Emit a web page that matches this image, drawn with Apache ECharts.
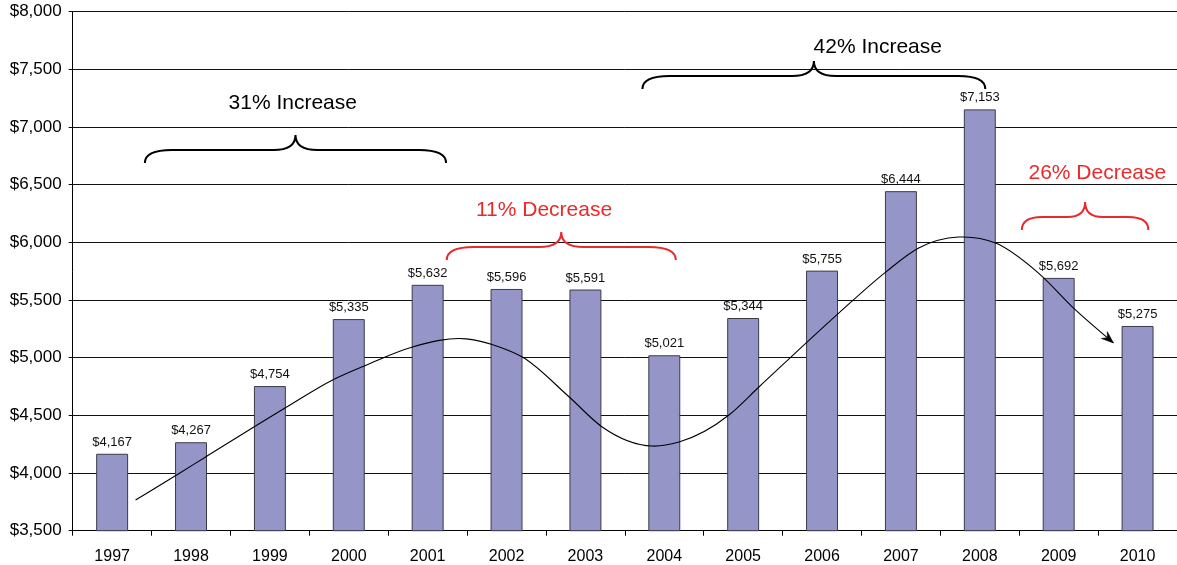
<!DOCTYPE html>
<html>
<head>
<meta charset="utf-8">
<title>Annual spending 1997–2010</title>
<script src="https://cdn.jsdelivr.net/npm/echarts@6/dist/echarts.min.js"></script>
<style>
  html, body { margin: 0; padding: 0; background: #fff; }
  #chart { width: 1177px; height: 565px; }
</style>
</head>
<body>
<div id="chart"></div>
<script>
// Yearly amounts shown as bars
const years = ['1997', '1998', '1999', '2000', '2001', '2002', '2003', '2004', '2005', '2006', '2007', '2008', '2009', '2010'];
const amounts = [4167, 4267, 4754, 5335, 5632, 5596, 5591, 5021, 5344, 5755, 6444, 7153, 5692, 5275];

// Hand-drawn trend curve (x in category units, 0 = 1997)
const trendX = [0.297, 0.833, 1.175, 2.213, 2.795, 3.225, 3.808, 4.491, 4.909, 5.2, 5.795, 6.213, 6.846, 7.187, 7.82, 8.2, 9.212, 9.807, 10.225, 10.731, 11.2, 11.744, 12.213, 12.694];
const trendY = [3766, 3990, 4135, 4572, 4807, 4937, 5093, 5163, 5093, 5006, 4659, 4399, 4234, 4269, 4503, 4746, 5387, 5742, 5951, 6046, 5994, 5734, 5414, 5128];

// Brace annotations: span on the category scale, base level, caption and caption anchor
const braceFrom = [0.415, 4.242, 6.723, 11.533];
const braceTo = [4.234, 7.146, 11.07, 13.137];
const braceBase = [6688, 5847, 7330, 6107];
const braceText = ['31% Increase', '11% Decrease', '42% Increase', '26% Decrease'];
const braceKind = ['up', 'down', 'up', 'down'];
const captionX = [2.29, 5.475, 9.706, 12.49];
const captionY = [7208, 6280, 7696, 6601];

// Y axis ticks
const yMin = 3500, yMax = 8000, yStep = 500;

const FONT = '"Liberation Sans", Arial, sans-serif';
const kindColor = { up: '#000000', down: '#ea2a2a' };

const fmtMoney = v => '$' + Number(v).toLocaleString('en-US');

const chart = echarts.init(document.getElementById('chart'), null, { renderer: 'canvas' });

const trendData = trendX.map((x, i) => [x, trendY[i]]);
const braceData = braceFrom.map((x0, i) => [x0, braceTo[i], braceBase[i], captionX[i], captionY[i]]);

// Curly brace with its caption
function renderBrace(params, api) {
  const i = params.dataIndex;
  const a = api.coord([api.value(0), api.value(2)]);
  const b = api.coord([api.value(1), api.value(2)]);
  const c = api.coord([api.value(3), api.value(4)]);
  const x0 = a[0], x1 = b[0], yb = a[1];
  const yh = yb - 13, yt = yb - 28;
  const xm = (x0 + x1) / 2;
  const span = x1 - x0;
  const w1 = Math.min(27, span * 0.16);
  const w2 = Math.min(22, span * 0.14);
  const d = 'M' + x0 + ',' + yb +
    ' Q' + x0 + ',' + yh + ' ' + (x0 + w1) + ',' + yh +
    ' L' + (xm - w2) + ',' + yh +
    ' Q' + xm + ',' + yh + ' ' + xm + ',' + yt +
    ' Q' + xm + ',' + yh + ' ' + (xm + w2) + ',' + yh +
    ' L' + (x1 - w1) + ',' + yh +
    ' Q' + x1 + ',' + yh + ' ' + x1 + ',' + yb;
  const color = kindColor[braceKind[i]];
  return {
    type: 'group',
    children: [
      {
        type: 'path',
        shape: { pathData: d },
        style: { stroke: color, fill: null, lineWidth: 2 }
      },
      {
        type: 'text',
        x: c[0],
        y: c[1],
        style: {
          text: braceText[i],
          fill: color,
          font: '21px ' + FONT,
          align: 'center',
          verticalAlign: 'middle'
        }
      }
    ]
  };
}

// Trend curve: cubic Hermite through the points (tangents from a three-point
// derivative that respects uneven spacing), ending in an arrow head
function renderTrend(params, api) {
  if (params.dataIndex !== 0) return null;
  const pts = trendData.map(p => api.coord(p));
  const n = pts.length;
  const h = [], s = [];
  for (let i = 0; i < n - 1; i++) {
    h[i] = pts[i + 1][0] - pts[i][0];
    s[i] = (pts[i + 1][1] - pts[i][1]) / h[i];
  }
  const m = [];
  m[0] = s[0];
  m[n - 1] = s[n - 2];
  for (let i = 1; i < n - 1; i++) {
    m[i] = (s[i - 1] * h[i] + s[i] * h[i - 1]) / (h[i - 1] + h[i]);
  }
  let d = 'M' + pts[0][0] + ',' + pts[0][1];
  for (let i = 0; i < n - 1; i++) {
    const k = h[i] / 3;
    d += ' C' + (pts[i][0] + k) + ',' + (pts[i][1] + m[i] * k) + ' ' +
      (pts[i + 1][0] - k) + ',' + (pts[i + 1][1] - m[i + 1] * k) + ' ' +
      pts[i + 1][0] + ',' + pts[i + 1][1];
  }
  // arrow head aligned with the final tangent
  const tip = pts[n - 1];
  let dx = 1, dy = m[n - 1];
  const len = Math.sqrt(dx * dx + dy * dy);
  dx /= len; dy /= len;
  const nx = -dy, ny = dx;
  const L = 12, W = 4.5, notch = 8;
  const head = [
    tip,
    [tip[0] - dx * L + nx * W, tip[1] - dy * L + ny * W],
    [tip[0] - dx * notch, tip[1] - dy * notch],
    [tip[0] - dx * L - nx * W, tip[1] - dy * L - ny * W]
  ];
  return {
    type: 'group',
    children: [
      {
        type: 'path',
        shape: { pathData: d },
        style: { stroke: '#000', fill: null, lineWidth: 1.1 }
      },
      {
        type: 'polygon',
        shape: { points: head },
        style: { fill: '#000', stroke: '#000', lineWidth: 0.6 }
      }
    ]
  };
}

const option = {
  animation: false,
  backgroundColor: '#ffffff',
  textStyle: { fontFamily: FONT },
  grid: { left: 72.7, right: -1.7, top: 11.7, bottom: 34.3, containLabel: false },
  xAxis: [
    {
      type: 'category',
      data: years,
      boundaryGap: true,
      axisLine: { show: true, onZero: false, lineStyle: { color: '#000', width: 1 } },
      axisTick: { show: true, alignWithLabel: false, length: 5, lineStyle: { color: '#000' } },
      axisLabel: { color: '#000', fontSize: 16, fontFamily: FONT, margin: 18 },
      splitLine: { show: false }
    },
    {
      type: 'value',
      min: -0.5,
      max: 13.5,
      show: false
    }
  ],
  yAxis: {
    type: 'value',
    min: yMin,
    max: yMax,
    interval: yStep,
    axisLine: { show: true, onZero: false, lineStyle: { color: '#000', width: 1 } },
    axisTick: { show: true, length: 4, lineStyle: { color: '#000' } },
    axisLabel: { color: '#000', fontSize: 17, fontFamily: FONT, margin: 11, formatter: fmtMoney },
    splitLine: { show: true, lineStyle: { color: '#111', width: 1 } }
  },
  series: [
    {
      name: 'Amount',
      type: 'bar',
      xAxisIndex: 0,
      data: amounts,
      barWidth: '40.5%',
      itemStyle: { color: '#9595c8', borderColor: '#3a3a4a', borderWidth: 1 },
      label: {
        show: true,
        position: 'top',
        distance: 5,
        color: '#111',
        fontSize: 13,
        fontFamily: FONT,
        formatter: p => fmtMoney(p.value)
      },
      z: 2
    },
    {
      name: 'Trend',
      type: 'custom',
      xAxisIndex: 1,
      renderItem: renderTrend,
      data: trendData,
      encode: { x: 0, y: 1 },
      z: 5,
      silent: true
    },
    {
      name: 'Braces',
      type: 'custom',
      xAxisIndex: 1,
      renderItem: renderBrace,
      data: braceData,
      encode: { x: [0, 1, 3], y: [2, 4] },
      z: 7,
      silent: true
    }
  ]
};

chart.setOption(option);
</script>
</body>
</html>
